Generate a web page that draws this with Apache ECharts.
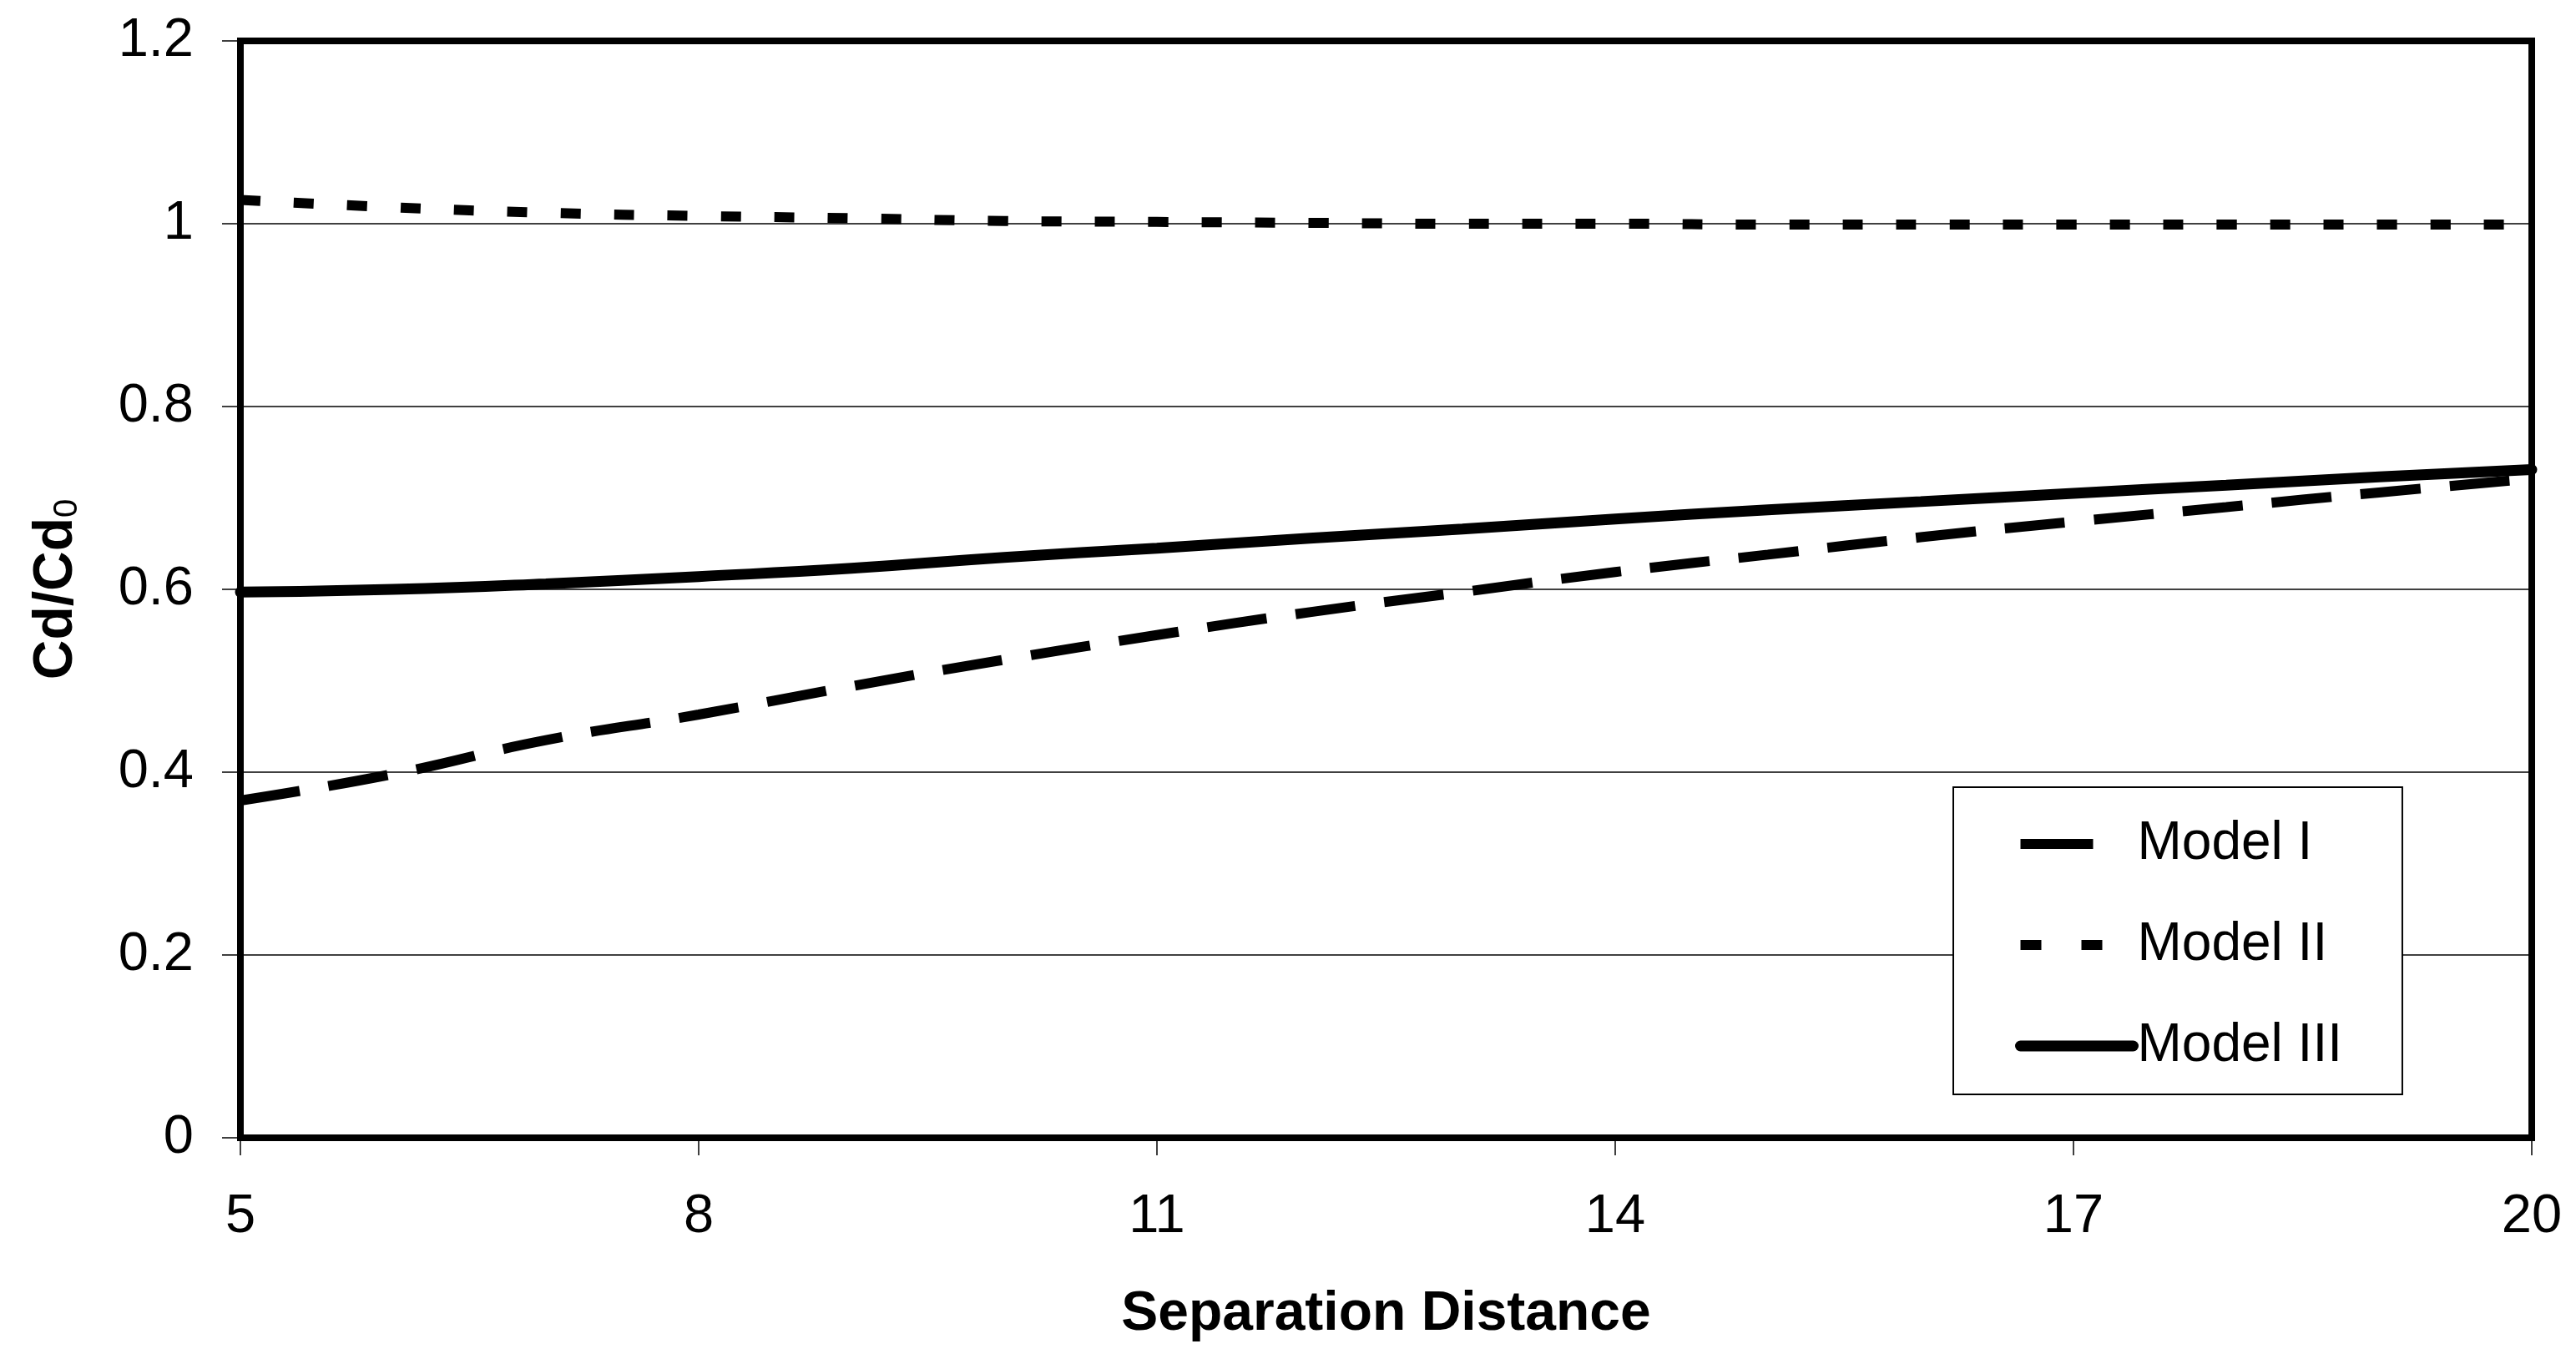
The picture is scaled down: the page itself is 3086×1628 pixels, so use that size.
<!DOCTYPE html>
<html>
<head>
<meta charset="utf-8">
<script src="https://cdn.jsdelivr.net/npm/echarts@6/dist/echarts.min.js"></script>
<style>
html,body{margin:0;padding:0;background:#fff;}
#chart{width:3086px;height:1628px;}
</style>
</head>
<body>
<div id="chart"></div>
<script>
// Data
var separation = [5, 6, 7, 8, 9, 10, 11, 12, 13, 14, 15, 16, 17, 18, 19, 20];
var modelI   = [0.369, 0.398, 0.435, 0.463, 0.494, 0.523, 0.550, 0.575, 0.597, 0.619, 0.638, 0.657, 0.674, 0.690, 0.706, 0.721];
var modelII  = [1.026, 1.018, 1.012, 1.0085, 1.006, 1.003, 1.002, 1.001, 1.000, 1.000, 0.999, 0.999, 0.999, 0.999, 0.999, 0.999];
var modelIII = [0.597, 0.600, 0.606, 0.614, 0.623, 0.635, 0.645, 0.656, 0.666, 0.677, 0.687, 0.696, 0.705, 0.714, 0.723, 0.731];
var seriesNames = ['Model I', 'Model II', 'Model III'];
var xTitle = 'Separation Distance';
var yTitleMain = 'Cd/Cd';
var yTitleSub = '0';

function pairs(xs, ys) { return xs.map(function (x, i) { return [x, ys[i]]; }); }

var FONT = '"Liberation Sans", Arial, sans-serif';
var hiddenSymbol = { color: 'rgba(0,0,0,0)', borderWidth: 0, opacity: 0 };
var chart = echarts.init(document.getElementById('chart'));
chart.setOption({
  backgroundColor: '#ffffff',
  animation: false,
  grid: {
    left: 288, right: 53, top: 49, bottom: 265,
    show: true, borderColor: '#000', borderWidth: 8, backgroundColor: 'transparent'
  },
  legend: {
    orient: 'vertical',
    left: 2340, top: 943,
    padding: [36, 72, 26, 74],
    itemGap: 57,
    itemWidth: 135,
    itemHeight: 14,
    backgroundColor: '#fff',
    borderColor: '#000',
    borderWidth: 2,
    textStyle: { fontFamily: FONT, fontSize: 64, color: '#000', lineHeight: 64 },
    data: [
      { name: seriesNames[0], itemStyle: hiddenSymbol, lineStyle: { type: [87, 60], width: 12, cap: 'butt' } },
      { name: seriesNames[1], itemStyle: hiddenSymbol, lineStyle: { type: [25, 48], width: 12, cap: 'butt' } },
      { name: seriesNames[2], itemStyle: hiddenSymbol, lineStyle: { type: 'solid', width: 13, cap: 'round' } }
    ]
  },
  xAxis: {
    type: 'value', min: 5, max: 20, interval: 3,
    name: xTitle, nameLocation: 'middle', nameGap: 179,
    nameTextStyle: { fontFamily: FONT, fontSize: 66, fontWeight: 'bold', color: '#000' },
    axisLine: { show: false },
    axisTick: { show: true, inside: false, length: 21, lineStyle: { color: '#000', width: 1.5 } },
    axisLabel: { margin: 63, fontFamily: FONT, fontSize: 65, color: '#000' },
    splitLine: { show: false }
  },
  yAxis: {
    type: 'value', min: 0, max: 1.2, interval: 0.2,
    name: '{m|' + yTitleMain + '}{s|' + yTitleSub + '}',
    nameLocation: 'middle', nameRotate: 90, nameGap: 187,
    nameTextStyle: {
      color: '#000',
      rich: {
        m: { fontFamily: FONT, fontSize: 66, fontWeight: 'bold', color: '#000', lineHeight: 66 },
        s: { fontFamily: FONT, fontSize: 40, color: '#000', verticalAlign: 'bottom', lineHeight: 40 }
      }
    },
    axisLine: { show: false },
    axisTick: { show: true, inside: false, length: 22, lineStyle: { color: '#000', width: 1.5 } },
    axisLabel: { margin: 56, fontFamily: FONT, fontSize: 65, color: '#000' },
    splitLine: { show: true, lineStyle: { color: '#000', width: 1.5 } }
  },
  series: [
    {
      name: seriesNames[0], type: 'line', smooth: true, symbol: 'none', showSymbol: false,
      data: pairs(separation, modelI),
      lineStyle: { color: '#000', width: 12, type: [72, 35], cap: 'butt' },
      itemStyle: { color: '#000' }, z: 2
    },
    {
      name: seriesNames[1], type: 'line', smooth: true, symbol: 'none', showSymbol: false,
      data: pairs(separation, modelII),
      lineStyle: { color: '#000', width: 12, type: [24, 40], cap: 'butt' },
      itemStyle: { color: '#000' }, z: 2
    },
    {
      name: seriesNames[2], type: 'line', smooth: true, symbol: 'none', showSymbol: false,
      data: pairs(separation, modelIII),
      lineStyle: { color: '#000', width: 13, type: 'solid', cap: 'round' },
      itemStyle: { color: '#000' }, z: 3
    }
  ]
});
</script>
</body>
</html>
